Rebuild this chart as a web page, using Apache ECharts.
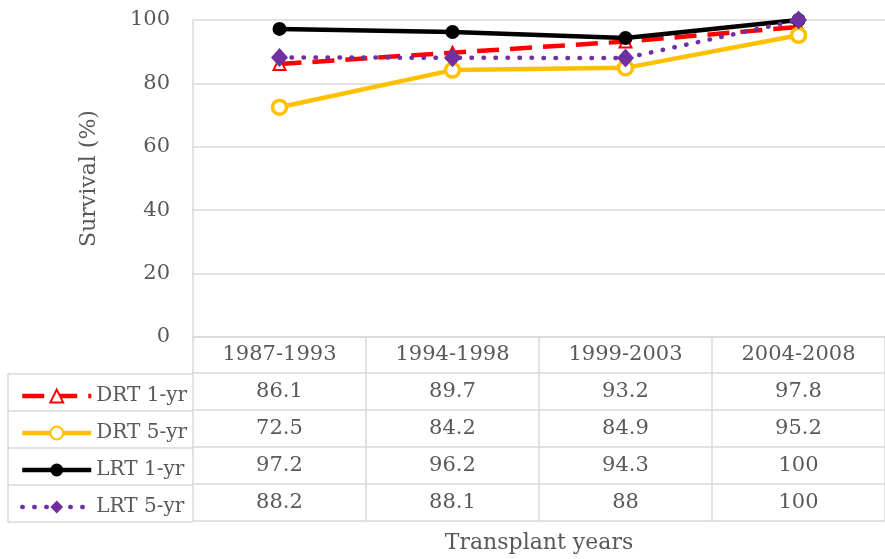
<!DOCTYPE html>
<html>
<head>
<meta charset="utf-8">
<script src="https://cdn.jsdelivr.net/npm/echarts@6/dist/echarts.min.js"></script>
<style>
  html, body { margin: 0; padding: 0; background: #fff; }
  #main { width: 885px; height: 559px; }
</style>
</head>
<body>
<div id="main"></div>
<script>
// survival by transplant era
var periods = ['1987-1993', '1994-1998', '1999-2003', '2004-2008'];
var drt1 = [86.1, 89.7, 93.2, 97.8];
var drt5 = [72.5, 84.2, 84.9, 95.2];
var lrt1 = [97.2, 96.2, 94.3, 100];
var lrt5 = [88.2, 88.1, 88, 100];
var seriesNames = ['DRT 1-yr', 'DRT 5-yr', 'LRT 1-yr', 'LRT 5-yr'];
var tableRows = [drt1, drt5, lrt1, lrt5];

var FONT = 'DejaVu Serif';
var TXT = '#595959';
var GRID_C = '#d9d9d9';
var ROW_H = 37, HEAD_H = 36;

var chart = echarts.init(document.getElementById('main'));

// x axes: header row + one axis per table row (labels are the table values)
var xAxes = [{
    type: 'category',
    data: periods,
    position: 'bottom',
    axisLine: { lineStyle: { color: GRID_C, width: 1.5 } },
    axisTick: { show: true, interval: 0, length: HEAD_H, lineStyle: { color: GRID_C, width: 1.5 } },
    axisLabel: { interval: 0, margin: 18, verticalAlign: 'middle', color: TXT, fontFamily: FONT, fontSize: 21 },
    name: 'Transplant years',
    nameLocation: 'middle',
    nameGap: 195,
    nameTextStyle: { color: TXT, fontFamily: FONT, fontSize: 22, verticalAlign: 'top' }
}];
tableRows.forEach(function (row, k) {
    xAxes.push({
        type: 'category',
        data: periods,
        position: 'bottom',
        offset: HEAD_H + ROW_H * k,
        axisLine: { lineStyle: { color: GRID_C, width: 1.5 } },
        axisTick: { show: true, interval: 0, length: ROW_H, lineStyle: { color: GRID_C, width: 1.5 } },
        axisLabel: {
            interval: 0, margin: 19, verticalAlign: 'middle',
            color: TXT, fontFamily: FONT, fontSize: 21,
            formatter: function (v, i) { return String(row[i]); }
        }
    });
});
// closing line under the table
xAxes.push({
    type: 'category',
    data: periods,
    position: 'bottom',
    offset: HEAD_H + ROW_H * 4,
    axisLine: { lineStyle: { color: GRID_C, width: 1.5 } },
    axisTick: { show: false },
    axisLabel: { show: false }
});

// legend column borders
var legLines = [];
for (var r = 0; r <= 4; r++) {
    var yy = 338 + HEAD_H + ROW_H * r;
    legLines.push({ type: 'line', shape: { x1: 8, y1: yy, x2: 193, y2: yy }, style: { stroke: GRID_C, lineWidth: 1.5 } });
}
legLines.push({ type: 'line', shape: { x1: 8, y1: 338 + HEAD_H, x2: 8, y2: 338 + HEAD_H + ROW_H * 4 }, style: { stroke: GRID_C, lineWidth: 1.5 } });

var option = {
    backgroundColor: '#ffffff',
    animation: false,
    grid: { left: 193, top: 20, width: 704, height: 318, containLabel: false },
    legend: {
        orient: 'vertical',
        left: 15,
        top: 380,
        itemWidth: 69,
        itemHeight: 16,
        itemGap: 15,
        lineStyle: { width: 4.5 },
        textStyle: { color: TXT, fontFamily: FONT, fontSize: 20, lineHeight: 22 },
        data: seriesNames
    },
    xAxis: xAxes,
    yAxis: {
        type: 'value',
        min: 0,
        max: 100,
        interval: 20,
        axisLine: { show: true, lineStyle: { color: GRID_C, width: 1.5 } },
        axisTick: { show: false },
        splitLine: { lineStyle: { color: GRID_C, width: 1.5 } },
        axisLabel: { margin: 23, color: TXT, fontFamily: FONT, fontSize: 21 },
        name: 'Survival (%)',
        nameLocation: 'middle',
        nameGap: 93,
        nameTextStyle: { color: TXT, fontFamily: FONT, fontSize: 22 }
    },
    graphic: legLines,
    series: [
        {
            name: seriesNames[0], type: 'line', data: drt1,
            symbol: 'triangle', symbolSize: 12,
            lineStyle: { color: '#ff0000', width: 4.5, type: [22, 11] },
            itemStyle: { color: '#ffffff', borderColor: '#ff0000', borderWidth: 2 }
        },
        {
            name: seriesNames[1], type: 'line', data: drt5,
            symbol: 'circle', symbolSize: 14,
            lineStyle: { color: '#ffc000', width: 4.5 },
            itemStyle: { color: '#ffffff', borderColor: '#ffc000', borderWidth: 3.5 }
        },
        {
            name: seriesNames[2], type: 'line', data: lrt1,
            symbol: 'circle', symbolSize: 14,
            lineStyle: { color: '#000000', width: 4.5 },
            itemStyle: { color: '#000000', borderColor: '#000000', borderWidth: 0 }
        },
        {
            name: seriesNames[3], type: 'line', data: lrt5,
            symbol: 'diamond', symbolSize: [17, 19],
            lineStyle: { color: '#7030a0', width: 4.5, type: [0.5, 11.5], cap: 'round' },
            itemStyle: { color: '#7030a0', borderWidth: 0 }
        }
    ]
};

chart.setOption(option);
</script>
</body>
</html>
